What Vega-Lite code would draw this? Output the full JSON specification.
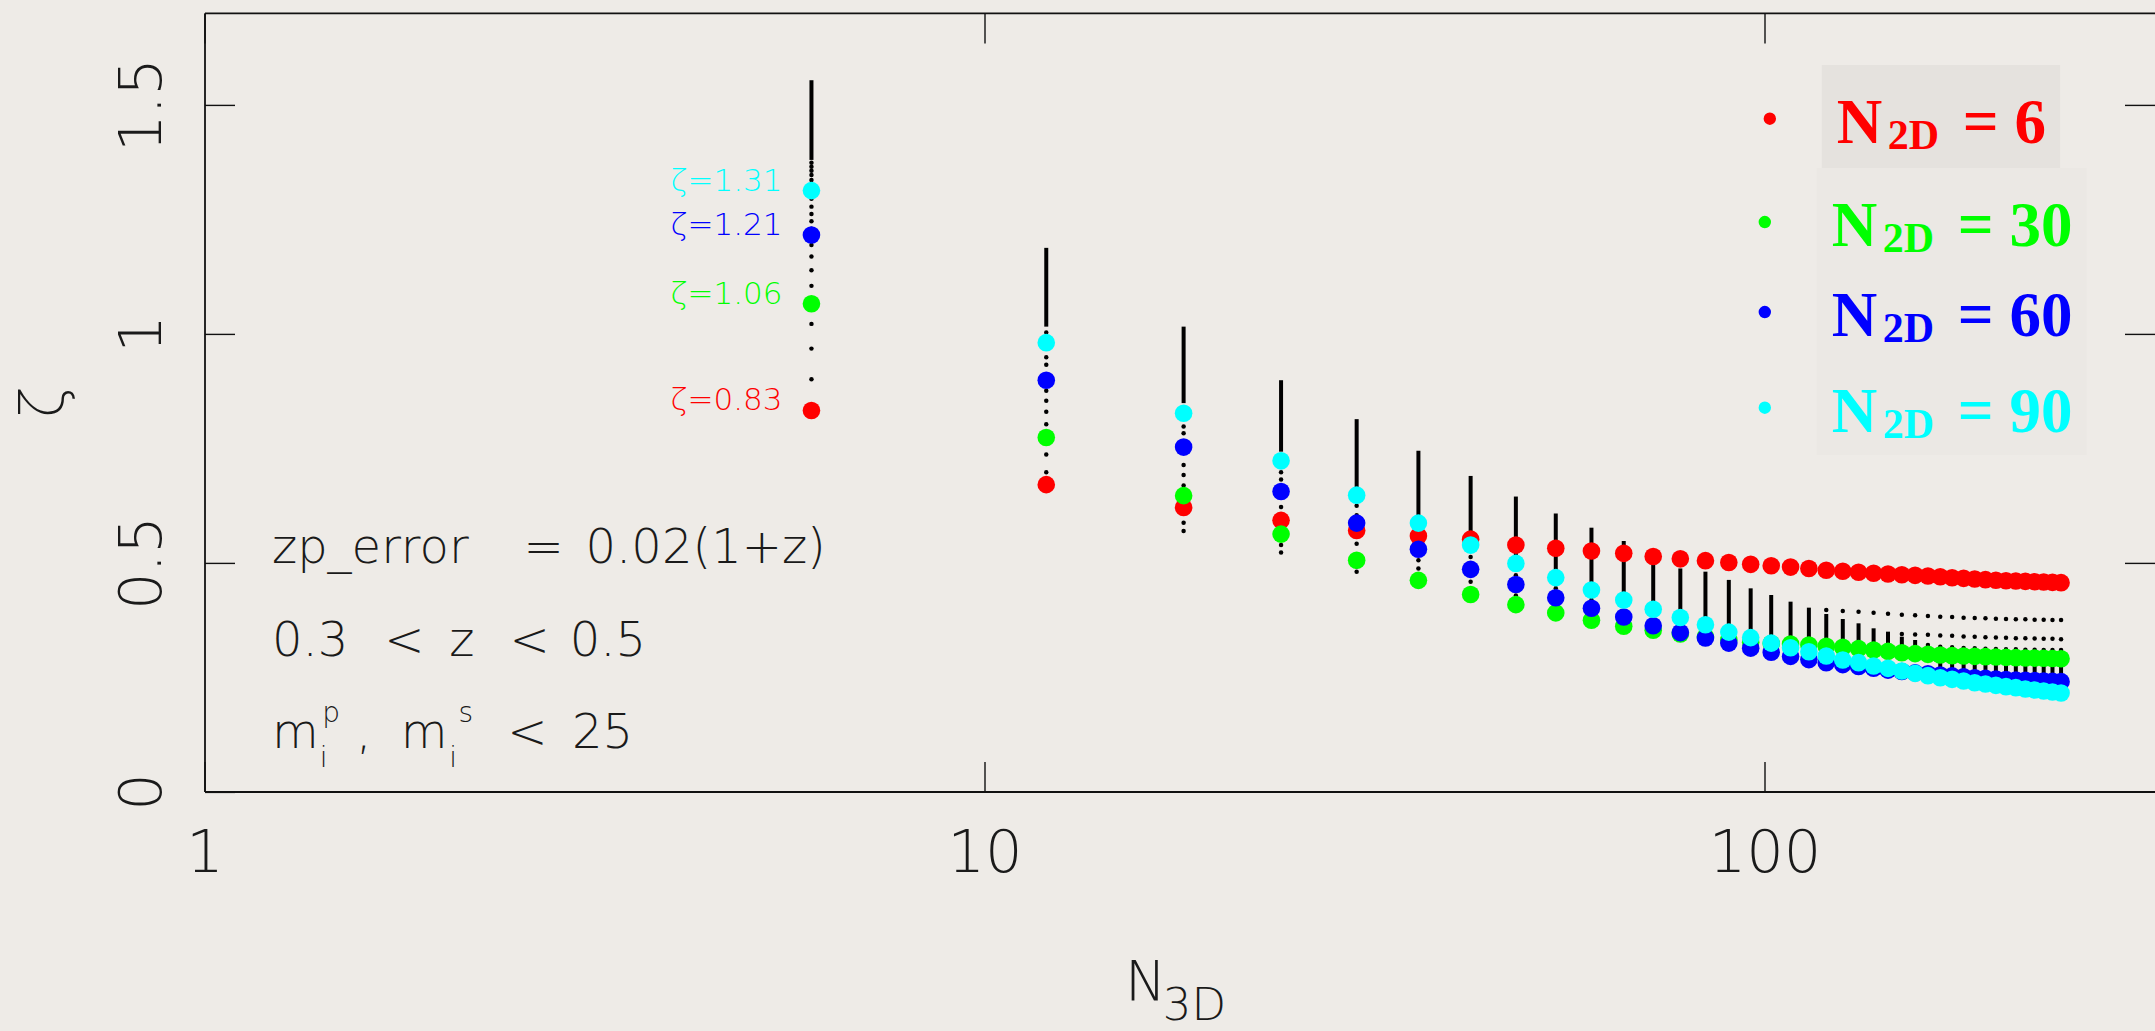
{
  "$schema": "https://vega.github.io/schema/vega-lite/v6.json",
  "width": 1950,
  "height": 778.6,
  "autosize": {"type": "none"},
  "padding": {"left": 204.5, "top": 12.9, "right": 0.5, "bottom": 239.5},
  "background": "#eeebe7",
  "config": {"view": {"stroke": null}},
  "datasets": {
    "series": [
      {"n3d":6,"n2d":6,"zeta":0.832},{"n3d":12,"n2d":6,"zeta":0.670},{"n3d":18,"n2d":6,"zeta":0.620},{"n3d":24,"n2d":6,"zeta":0.592},{"n3d":30,"n2d":6,"zeta":0.570},{"n3d":36,"n2d":6,"zeta":0.558},{"n3d":42,"n2d":6,"zeta":0.551},{"n3d":48,"n2d":6,"zeta":0.538},{"n3d":54,"n2d":6,"zeta":0.531},{"n3d":60,"n2d":6,"zeta":0.525},{"n3d":66,"n2d":6,"zeta":0.520},{"n3d":72,"n2d":6,"zeta":0.513},{"n3d":78,"n2d":6,"zeta":0.508},{"n3d":84,"n2d":6,"zeta":0.504},{"n3d":90,"n2d":6,"zeta":0.500},{"n3d":96,"n2d":6,"zeta":0.496},{"n3d":102,"n2d":6,"zeta":0.493},{"n3d":108,"n2d":6,"zeta":0.490},{"n3d":114,"n2d":6,"zeta":0.487},{"n3d":120,"n2d":6,"zeta":0.483},{"n3d":126,"n2d":6,"zeta":0.481},{"n3d":132,"n2d":6,"zeta":0.4786},{"n3d":138,"n2d":6,"zeta":0.4764},{"n3d":144,"n2d":6,"zeta":0.4749},{"n3d":150,"n2d":6,"zeta":0.4734},{"n3d":156,"n2d":6,"zeta":0.4720},{"n3d":162,"n2d":6,"zeta":0.4705},{"n3d":168,"n2d":6,"zeta":0.4690},{"n3d":174,"n2d":6,"zeta":0.4668},{"n3d":180,"n2d":6,"zeta":0.4654},{"n3d":186,"n2d":6,"zeta":0.4640},{"n3d":192,"n2d":6,"zeta":0.4625},{"n3d":198,"n2d":6,"zeta":0.4611},{"n3d":204,"n2d":6,"zeta":0.4603},{"n3d":210,"n2d":6,"zeta":0.4596},{"n3d":216,"n2d":6,"zeta":0.4589},{"n3d":222,"n2d":6,"zeta":0.4581},{"n3d":228,"n2d":6,"zeta":0.4574},{"n3d":234,"n2d":6,"zeta":0.4567},{"n3d":240,"n2d":6,"zeta":0.4560},
      {"n3d":6,"n2d":30,"zeta":1.065},{"n3d":12,"n2d":30,"zeta":0.773},{"n3d":18,"n2d":30,"zeta":0.646},{"n3d":24,"n2d":30,"zeta":0.562},{"n3d":30,"n2d":30,"zeta":0.505},{"n3d":36,"n2d":30,"zeta":0.461},{"n3d":42,"n2d":30,"zeta":0.430},{"n3d":48,"n2d":30,"zeta":0.408},{"n3d":54,"n2d":30,"zeta":0.390},{"n3d":60,"n2d":30,"zeta":0.374},{"n3d":66,"n2d":30,"zeta":0.361},{"n3d":72,"n2d":30,"zeta":0.352},{"n3d":78,"n2d":30,"zeta":0.344},{"n3d":84,"n2d":30,"zeta":0.338},{"n3d":90,"n2d":30,"zeta":0.331},{"n3d":96,"n2d":30,"zeta":0.326},{"n3d":102,"n2d":30,"zeta":0.323},{"n3d":108,"n2d":30,"zeta":0.322},{"n3d":114,"n2d":30,"zeta":0.320},{"n3d":120,"n2d":30,"zeta":0.317},{"n3d":126,"n2d":30,"zeta":0.315},{"n3d":132,"n2d":30,"zeta":0.312},{"n3d":138,"n2d":30,"zeta":0.309},{"n3d":144,"n2d":30,"zeta":0.306},{"n3d":150,"n2d":30,"zeta":0.303},{"n3d":156,"n2d":30,"zeta":0.301},{"n3d":162,"n2d":30,"zeta":0.2995},{"n3d":168,"n2d":30,"zeta":0.2980},{"n3d":174,"n2d":30,"zeta":0.2966},{"n3d":180,"n2d":30,"zeta":0.2959},{"n3d":186,"n2d":30,"zeta":0.2951},{"n3d":192,"n2d":30,"zeta":0.2944},{"n3d":198,"n2d":30,"zeta":0.2937},{"n3d":204,"n2d":30,"zeta":0.2929},{"n3d":210,"n2d":30,"zeta":0.2922},{"n3d":216,"n2d":30,"zeta":0.2915},{"n3d":222,"n2d":30,"zeta":0.2912},{"n3d":228,"n2d":30,"zeta":0.2908},{"n3d":234,"n2d":30,"zeta":0.2905},{"n3d":240,"n2d":30,"zeta":0.2900},
      {"n3d":6,"n2d":60,"zeta":1.215},{"n3d":12,"n2d":60,"zeta":0.898},{"n3d":18,"n2d":60,"zeta":0.752},{"n3d":24,"n2d":60,"zeta":0.655},{"n3d":30,"n2d":60,"zeta":0.586},{"n3d":36,"n2d":60,"zeta":0.529},{"n3d":42,"n2d":60,"zeta":0.485},{"n3d":48,"n2d":60,"zeta":0.452},{"n3d":54,"n2d":60,"zeta":0.423},{"n3d":60,"n2d":60,"zeta":0.400},{"n3d":66,"n2d":60,"zeta":0.381},{"n3d":72,"n2d":60,"zeta":0.362},{"n3d":78,"n2d":60,"zeta":0.347},{"n3d":84,"n2d":60,"zeta":0.335},{"n3d":90,"n2d":60,"zeta":0.324},{"n3d":96,"n2d":60,"zeta":0.313},{"n3d":102,"n2d":60,"zeta":0.304},{"n3d":108,"n2d":60,"zeta":0.295},{"n3d":114,"n2d":60,"zeta":0.288},{"n3d":120,"n2d":60,"zeta":0.281},{"n3d":126,"n2d":60,"zeta":0.277},{"n3d":132,"n2d":60,"zeta":0.273},{"n3d":138,"n2d":60,"zeta":0.269},{"n3d":144,"n2d":60,"zeta":0.265},{"n3d":150,"n2d":60,"zeta":0.262},{"n3d":156,"n2d":60,"zeta":0.259},{"n3d":162,"n2d":60,"zeta":0.257},{"n3d":168,"n2d":60,"zeta":0.2545},{"n3d":174,"n2d":60,"zeta":0.2525},{"n3d":180,"n2d":60,"zeta":0.2505},{"n3d":186,"n2d":60,"zeta":0.2485},{"n3d":192,"n2d":60,"zeta":0.2470},{"n3d":198,"n2d":60,"zeta":0.2456},{"n3d":204,"n2d":60,"zeta":0.2442},{"n3d":210,"n2d":60,"zeta":0.2434},{"n3d":216,"n2d":60,"zeta":0.2427},{"n3d":222,"n2d":60,"zeta":0.2420},{"n3d":228,"n2d":60,"zeta":0.2413},{"n3d":234,"n2d":60,"zeta":0.2405},{"n3d":240,"n2d":60,"zeta":0.2398},
      {"n3d":6,"n2d":90,"zeta":1.312},{"n3d":12,"n2d":90,"zeta":0.980},{"n3d":18,"n2d":90,"zeta":0.826},{"n3d":24,"n2d":90,"zeta":0.722},{"n3d":30,"n2d":90,"zeta":0.647},{"n3d":36,"n2d":90,"zeta":0.586},{"n3d":42,"n2d":90,"zeta":0.538},{"n3d":48,"n2d":90,"zeta":0.498},{"n3d":54,"n2d":90,"zeta":0.467},{"n3d":60,"n2d":90,"zeta":0.440},{"n3d":66,"n2d":90,"zeta":0.418},{"n3d":72,"n2d":90,"zeta":0.398},{"n3d":78,"n2d":90,"zeta":0.380},{"n3d":84,"n2d":90,"zeta":0.364},{"n3d":90,"n2d":90,"zeta":0.348},{"n3d":96,"n2d":90,"zeta":0.336},{"n3d":102,"n2d":90,"zeta":0.324},{"n3d":108,"n2d":90,"zeta":0.314},{"n3d":114,"n2d":90,"zeta":0.305},{"n3d":120,"n2d":90,"zeta":0.296},{"n3d":126,"n2d":90,"zeta":0.287},{"n3d":132,"n2d":90,"zeta":0.2813},{"n3d":138,"n2d":90,"zeta":0.2740},{"n3d":144,"n2d":90,"zeta":0.2689},{"n3d":150,"n2d":90,"zeta":0.2631},{"n3d":156,"n2d":90,"zeta":0.2580},{"n3d":162,"n2d":90,"zeta":0.2529},{"n3d":168,"n2d":90,"zeta":0.2485},{"n3d":174,"n2d":90,"zeta":0.2449},{"n3d":180,"n2d":90,"zeta":0.2413},{"n3d":186,"n2d":90,"zeta":0.2376},{"n3d":192,"n2d":90,"zeta":0.2347},{"n3d":198,"n2d":90,"zeta":0.2318},{"n3d":204,"n2d":90,"zeta":0.2289},{"n3d":210,"n2d":90,"zeta":0.2267},{"n3d":216,"n2d":90,"zeta":0.2238},{"n3d":222,"n2d":90,"zeta":0.2216},{"n3d":228,"n2d":90,"zeta":0.2194},{"n3d":234,"n2d":90,"zeta":0.2172},{"n3d":240,"n2d":90,"zeta":0.2151}
    ],
    "bseg": [
      {"n3d":6,"lo":1.379,"hi":1.553},{"n3d":12,"lo":1.015,"hi":1.187},{"n3d":18,"lo":0.848,"hi":1.015},{"n3d":24,"lo":0.742,"hi":0.898},{"n3d":30,"lo":0.658,"hi":0.813},{"n3d":36,"lo":0.600,"hi":0.744},{"n3d":42,"lo":0.545,"hi":0.689},{"n3d":48,"lo":0.505,"hi":0.644},{"n3d":54,"lo":0.475,"hi":0.607},{"n3d":60,"lo":0.445,"hi":0.576},{"n3d":66,"lo":0.420,"hi":0.547},{"n3d":72,"lo":0.400,"hi":0.495},{"n3d":78,"lo":0.380,"hi":0.487},{"n3d":84,"lo":0.364,"hi":0.480},{"n3d":90,"lo":0.348,"hi":0.462},{"n3d":96,"lo":0.336,"hi":0.4436},{"n3d":102,"lo":0.324,"hi":0.429},{"n3d":108,"lo":0.316,"hi":0.4145},{"n3d":114,"lo":0.310,"hi":0.4014},{"n3d":120,"lo":0.305,"hi":0.3875},{"n3d":126,"lo":0.305,"hi":0.3766},{"n3d":132,"lo":0.300,"hi":0.3672},{"n3d":138,"lo":0.300,"hi":0.3563},{"n3d":144,"lo":0.300,"hi":0.3490},{"n3d":150,"lo":0.300,"hi":0.3380},{"n3d":156,"lo":0.300,"hi":0.3308},{"n3d":162,"lo":0.300,"hi":0.318},{"n3d":168,"lo":0.2545,"hi":0.298},{"n3d":174,"lo":0.2525,"hi":0.2966},{"n3d":180,"lo":0.2505,"hi":0.2959},{"n3d":186,"lo":0.2485,"hi":0.2951},{"n3d":192,"lo":0.247,"hi":0.2944},{"n3d":198,"lo":0.2456,"hi":0.2937},{"n3d":204,"lo":0.2442,"hi":0.2929},{"n3d":210,"lo":0.2434,"hi":0.2922},{"n3d":216,"lo":0.2427,"hi":0.2915},{"n3d":222,"lo":0.242,"hi":0.2912},{"n3d":228,"lo":0.2413,"hi":0.2908},{"n3d":234,"lo":0.2405,"hi":0.2905},{"n3d":240,"lo":0.2398,"hi":0.29}
    ],
    "bdots": [
      {"n3d":6,"zeta":0.900},{"n3d":6,"zeta":0.967},{"n3d":6,"zeta":1.021},{"n3d":6,"zeta":1.104},{"n3d":6,"zeta":1.138},{"n3d":6,"zeta":1.168},{"n3d":6,"zeta":1.193},{"n3d":6,"zeta":1.229},{"n3d":6,"zeta":1.245},{"n3d":6,"zeta":1.261},{"n3d":6,"zeta":1.277},{"n3d":6,"zeta":1.294},{"n3d":6,"zeta":1.335},{"n3d":6,"zeta":1.346},{"n3d":6,"zeta":1.3555},{"n3d":6,"zeta":1.364},{"n3d":6,"zeta":1.373},
      {"n3d":12,"zeta":1.002},{"n3d":12,"zeta":0.948},{"n3d":12,"zeta":0.932},{"n3d":12,"zeta":0.875},{"n3d":12,"zeta":0.853},{"n3d":12,"zeta":0.829},{"n3d":12,"zeta":0.802},{"n3d":12,"zeta":0.736},{"n3d":12,"zeta":0.697},
      {"n3d":18,"zeta":0.797},{"n3d":18,"zeta":0.782},{"n3d":18,"zeta":0.713},{"n3d":18,"zeta":0.691},{"n3d":18,"zeta":0.668},{"n3d":18,"zeta":0.587},{"n3d":18,"zeta":0.569},
      {"n3d":24,"zeta":0.697},{"n3d":24,"zeta":0.681},{"n3d":24,"zeta":0.621},{"n3d":24,"zeta":0.604},{"n3d":24,"zeta":0.538},{"n3d":24,"zeta":0.522},
      {"n3d":30,"zeta":0.624},{"n3d":30,"zeta":0.603},{"n3d":30,"zeta":0.541},{"n3d":30,"zeta":0.491},{"n3d":30,"zeta":0.480},
      {"n3d":36,"zeta":0.505},{"n3d":36,"zeta":0.487},
      {"n3d":42,"zeta":0.512},{"n3d":42,"zeta":0.498},{"n3d":42,"zeta":0.458},{"n3d":42,"zeta":0.443},
      {"n3d":48,"zeta":0.472},{"n3d":48,"zeta":0.428},
      {"n3d":54,"zeta":0.444},{"n3d":54,"zeta":0.405},
      {"n3d":60,"zeta":0.418},{"n3d":60,"zeta":0.386},
      {"n3d":120,"zeta":0.3962},{"n3d":126,"zeta":0.394},{"n3d":132,"zeta":0.3926},{"n3d":138,"zeta":0.3904},{"n3d":144,"zeta":0.3883},
      {"n3d":150,"zeta":0.386},{"n3d":150,"zeta":0.3439},
      {"n3d":156,"zeta":0.3846},{"n3d":156,"zeta":0.3428},
      {"n3d":162,"zeta":0.3832},{"n3d":162,"zeta":0.3421},{"n3d":162,"zeta":0.3199},
      {"n3d":168,"zeta":0.3817},{"n3d":168,"zeta":0.3406},{"n3d":168,"zeta":0.3162},
      {"n3d":174,"zeta":0.381},{"n3d":174,"zeta":0.3399},{"n3d":174,"zeta":0.3148},
      {"n3d":180,"zeta":0.3795},{"n3d":180,"zeta":0.3384},{"n3d":180,"zeta":0.3133},
      {"n3d":186,"zeta":0.3788},{"n3d":186,"zeta":0.3377},{"n3d":186,"zeta":0.3126},
      {"n3d":192,"zeta":0.3781},{"n3d":192,"zeta":0.337},{"n3d":192,"zeta":0.3119},
      {"n3d":198,"zeta":0.3774},{"n3d":198,"zeta":0.3362},{"n3d":198,"zeta":0.3111},
      {"n3d":204,"zeta":0.3766},{"n3d":204,"zeta":0.3355},{"n3d":204,"zeta":0.3104},
      {"n3d":210,"zeta":0.3759},{"n3d":210,"zeta":0.3348},{"n3d":210,"zeta":0.3104},
      {"n3d":216,"zeta":0.3759},{"n3d":216,"zeta":0.3348},{"n3d":216,"zeta":0.3097},
      {"n3d":222,"zeta":0.3752},{"n3d":222,"zeta":0.3341},{"n3d":222,"zeta":0.3097},
      {"n3d":228,"zeta":0.3752},{"n3d":228,"zeta":0.3333},{"n3d":228,"zeta":0.309},
      {"n3d":234,"zeta":0.3745},{"n3d":234,"zeta":0.3333},{"n3d":234,"zeta":0.309},
      {"n3d":240,"zeta":0.3745},{"n3d":240,"zeta":0.3326},{"n3d":240,"zeta":0.309}
    ],
    "zlab": [
      {"n3d":6,"n2d":6,"zeta":0.832,"label":"ζ=0.83"},
      {"n3d":6,"n2d":30,"zeta":1.065,"label":"ζ=1.06"},
      {"n3d":6,"n2d":60,"zeta":1.215,"label":"ζ=1.21"},
      {"n3d":6,"n2d":90,"zeta":1.312,"label":"ζ=1.31"}
    ],
    "leg": [
      {"n2d":6,"n3d":123.8,"zeta":1.4166,"val":"= 6"},
      {"n2d":30,"n3d":121.98,"zeta":1.191,"val":"= 30"},
      {"n2d":60,"n3d":121.98,"zeta":0.9945,"val":"= 60"},
      {"n2d":90,"n3d":121.98,"zeta":0.7856,"val":"= 90"}
    ],
    "boxes": [
      {"x1":118.4,"x2":239.3,"y1":1.5862,"y2":1.3614,"shade":"a"},
      {"x1":116.7,"x2":258.9,"y1":1.3614,"y2":0.7347,"shade":"b"}
    ],
    "notes": [
      {"n3d":1.2203,"zeta":0.499,"t":"zp_error","role":"main"},
      {"n3d":2.5634,"zeta":0.499,"t":"=","role":"main"},
      {"n3d":3.0799,"zeta":0.499,"t":"0.02(1+z)","role":"main"},
      {"n3d":1.2203,"zeta":0.296,"t":"0.3","role":"main"},
      {"n3d":1.7005,"zeta":0.296,"t":"<","role":"main"},
      {"n3d":2.0597,"zeta":0.296,"t":"z","role":"main"},
      {"n3d":2.4603,"zeta":0.296,"t":"<","role":"main"},
      {"n3d":2.9394,"zeta":0.296,"t":"0.5","role":"main"},
      {"n3d":1.2203,"zeta":0.095,"t":"m","role":"main"},
      {"n3d":1.4052,"zeta":0.0535,"t":"i","role":"script"},
      {"n3d":1.4152,"zeta":0.1517,"t":"p","role":"script"},
      {"n3d":1.5653,"zeta":0.095,"t":",","role":"main"},
      {"n3d":1.7848,"zeta":0.095,"t":"m","role":"main"},
      {"n3d":2.0597,"zeta":0.0535,"t":"i","role":"script"},
      {"n3d":2.1168,"zeta":0.1517,"t":"s","role":"script"},
      {"n3d":2.4437,"zeta":0.095,"t":"<","role":"main"},
      {"n3d":2.9585,"zeta":0.095,"t":"25","role":"main"},
      {"n3d":15.14,"zeta":-0.4552,"t":"N","role":"axis"},
      {"n3d":16.93,"zeta":-0.4989,"t":"3D","role":"axissub"}
    ]
  },
  "layer": [
    {
      "data": {"name": "boxes"},
      "mark": {"type": "rect"},
      "encoding": {
        "x": {"field": "x1", "type": "quantitative", "scale": {"type": "log", "domain": [1, 316.23], "nice": false}, "axis": null},
        "x2": {"field": "x2"},
        "y": {"field": "y1", "type": "quantitative", "scale": {"domain": [0, 1.7], "nice": false, "zero": false}, "axis": null},
        "y2": {"field": "y2"},
        "fill": {"field": "shade", "type": "nominal", "scale": {"domain": ["a", "b"], "range": ["#e5e2de", "#ebe8e4"]}, "legend": null}
      }
    },
    {
      "data": {"name": "bseg"},
      "mark": {"type": "rule", "strokeWidth": 4, "color": "#000000"},
      "encoding": {
        "x": {"field": "n3d", "type": "quantitative", "scale": {"type": "log", "domain": [1, 316.23], "nice": false},
          "axis": {"orient": "bottom", "values": [1, 10, 100], "format": ".0f", "tickSize": -30, "tickWidth": 1.4, "tickColor": "#111111",
            "domainColor": "#111111", "domainWidth": 1.8, "labelPadding": 110, "labelBaseline": "alphabetic", "labelFont": "DejaVu Sans", "labelFontWeight": 200,
            "labelFontSize": 59, "labelColor": "#1a1a1a", "labelFlush": false, "labelOverlap": false, "title": null, "grid": false}},
        "y": {"field": "lo", "type": "quantitative", "scale": {"domain": [0, 1.7], "nice": false, "zero": false},
          "axis": {"orient": "left", "values": [0, 0.5, 1, 1.5], "format": "~g", "tickSize": -30, "tickWidth": 1.4, "tickColor": "#111111",
            "domainColor": "#111111", "domainWidth": 1.8, "labelAngle": -90, "labelAlign": "center", "labelBaseline": "alphabetic", "labelPadding": 74,
            "labelFont": "DejaVu Sans", "labelFontWeight": 200, "labelFontSize": 59, "labelColor": "#1a1a1a", "labelFlush": false, "labelOverlap": false, "grid": false,
            "title": "ζ", "titleAngle": -90, "titleX": -142, "titleY": 389, "titleAlign": "center", "titleBaseline": "alphabetic",
            "titleFont": "DejaVu Sans", "titleFontWeight": 200, "titleFontSize": 58, "titleColor": "#1a1a1a"}},
        "y2": {"field": "hi"}
      }
    },
    {
      "data": {"name": "bdots"},
      "mark": {"type": "circle", "size": 20, "color": "#000000", "opacity": 1},
      "encoding": {
        "x": {"field": "n3d", "type": "quantitative", "scale": {"type": "log", "domain": [1, 316.23], "nice": false},
          "axis": {"orient": "top", "values": [1, 10, 100], "labels": false, "tickSize": -30, "tickWidth": 1.4, "tickColor": "#111111",
            "domainColor": "#111111", "domainWidth": 1.8, "title": null, "grid": false}},
        "y": {"field": "zeta", "type": "quantitative", "scale": {"domain": [0, 1.7], "nice": false, "zero": false},
          "axis": {"orient": "right", "values": [0.5, 1, 1.5], "labels": false, "domain": false, "tickSize": -30, "tickWidth": 1.4, "tickColor": "#111111", "title": null, "grid": false}}
      }
    },
    {
      "data": {"name": "series"},
      "mark": {"type": "circle", "size": 310, "opacity": 1},
      "encoding": {
        "x": {"field": "n3d", "type": "quantitative", "axis": null},
        "y": {"field": "zeta", "type": "quantitative", "axis": null},
        "color": {"field": "n2d", "type": "nominal", "scale": {"domain": [6, 30, 60, 90], "range": ["#ff0000", "#00ff00", "#0000ff", "#00ffff"]}, "legend": null}
      }
    },
    {
      "data": {"name": "zlab"},
      "mark": {"type": "text", "align": "right", "baseline": "alphabetic", "dx": -29, "font": "DejaVu Sans", "fontWeight": 200, "fontSize": 31},
      "encoding": {
        "x": {"field": "n3d", "type": "quantitative", "axis": null},
        "y": {"field": "zeta", "type": "quantitative", "axis": null},
        "text": {"field": "label"},
        "color": {"field": "n2d", "type": "nominal", "legend": null}
      }
    },
    {
      "data": {"name": "leg"},
      "mark": {"type": "circle", "size": 154, "opacity": 1, "xOffset": -67, "yOffset": -24},
      "encoding": {
        "x": {"field": "n3d", "type": "quantitative", "axis": null},
        "y": {"field": "zeta", "type": "quantitative", "axis": null},
        "color": {"field": "n2d", "type": "nominal", "legend": null}
      }
    },
    {
      "data": {"name": "leg"},
      "mark": {"type": "text", "text": "N", "align": "left", "baseline": "alphabetic", "font": "Liberation Serif", "fontWeight": "bold", "fontSize": 63},
      "encoding": {
        "x": {"field": "n3d", "type": "quantitative", "axis": null},
        "y": {"field": "zeta", "type": "quantitative", "axis": null},
        "color": {"field": "n2d", "type": "nominal", "legend": null}
      }
    },
    {
      "data": {"name": "leg"},
      "mark": {"type": "text", "text": "2D", "align": "left", "baseline": "alphabetic", "dx": 51, "dy": 6, "font": "Liberation Serif", "fontWeight": "bold", "fontSize": 42},
      "encoding": {
        "x": {"field": "n3d", "type": "quantitative", "axis": null},
        "y": {"field": "zeta", "type": "quantitative", "axis": null},
        "color": {"field": "n2d", "type": "nominal", "legend": null}
      }
    },
    {
      "data": {"name": "leg"},
      "mark": {"type": "text", "align": "left", "baseline": "alphabetic", "dx": 126, "font": "Liberation Serif", "fontWeight": "bold", "fontSize": 63},
      "encoding": {
        "x": {"field": "n3d", "type": "quantitative", "axis": null},
        "y": {"field": "zeta", "type": "quantitative", "axis": null},
        "text": {"field": "val"},
        "color": {"field": "n2d", "type": "nominal", "legend": null}
      }
    },
    {
      "data": {"name": "notes"},
      "transform": [{"filter": "datum.role === 'main'"}],
      "mark": {"type": "text", "align": "left", "baseline": "alphabetic", "font": "DejaVu Sans", "fontWeight": 200, "fontSize": 48, "color": "#1a1a1a", "clip": false},
      "encoding": {
        "x": {"field": "n3d", "type": "quantitative", "axis": null},
        "y": {"field": "zeta", "type": "quantitative", "axis": null},
        "text": {"field": "t"}
      }
    },
    {
      "data": {"name": "notes"},
      "transform": [{"filter": "datum.role === 'script'"}],
      "mark": {"type": "text", "align": "left", "baseline": "alphabetic", "font": "DejaVu Sans", "fontWeight": 200, "fontSize": 28, "color": "#1a1a1a", "clip": false},
      "encoding": {
        "x": {"field": "n3d", "type": "quantitative", "axis": null},
        "y": {"field": "zeta", "type": "quantitative", "axis": null},
        "text": {"field": "t"}
      }
    },
    {
      "data": {"name": "notes"},
      "transform": [{"filter": "datum.role === 'axis'"}],
      "mark": {"type": "text", "align": "left", "baseline": "alphabetic", "font": "DejaVu Sans", "fontWeight": 200, "fontSize": 55, "color": "#1a1a1a", "clip": false},
      "encoding": {
        "x": {"field": "n3d", "type": "quantitative", "axis": null},
        "y": {"field": "zeta", "type": "quantitative", "axis": null},
        "text": {"field": "t"}
      }
    },
    {
      "data": {"name": "notes"},
      "transform": [{"filter": "datum.role === 'axissub'"}],
      "mark": {"type": "text", "align": "left", "baseline": "alphabetic", "font": "DejaVu Sans", "fontWeight": 200, "fontSize": 45, "color": "#1a1a1a", "clip": false},
      "encoding": {
        "x": {"field": "n3d", "type": "quantitative", "axis": null},
        "y": {"field": "zeta", "type": "quantitative", "axis": null},
        "text": {"field": "t"}
      }
    }
  ],
  "resolve": {"axis": {"x": "independent", "y": "independent"}}
}
